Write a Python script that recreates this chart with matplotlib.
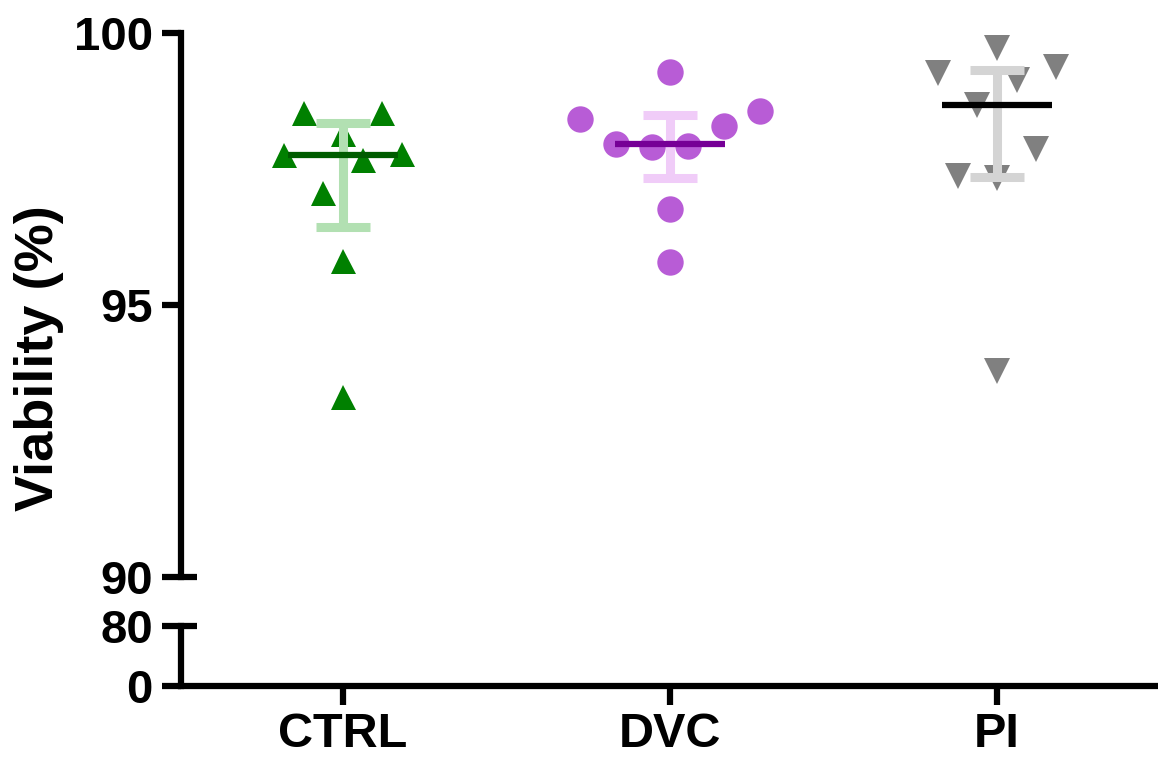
import numpy as np
import matplotlib
matplotlib.use("Agg")
import matplotlib.pyplot as plt

plt.rcParams['font.family'] = ['Liberation Sans', 'DejaVu Sans']
plt.rcParams['font.weight'] = 'bold'

# ---- data -------------------------------------------------------------
groups = ["CTRL", "DVC", "PI"]
ctrl_vals = [98.53, 98.53, 98.15, 97.76, 97.67, 97.77, 97.05, 95.81, 93.30]
dvc_vals = [99.29, 98.42, 98.57, 98.29, 97.95, 97.90, 97.92, 96.77, 95.79]
pi_vals = [99.73, 99.26, 99.37, 99.14, 98.67, 97.87, 97.37, 97.33, 93.78]

# horizontal scatter slots (multiples of the slot width) for each point
ctrl_slot = [-2, 2, 0, -3, 1, 3, -1, 0, 0]
dvc_slot = [0, -5, 5, 3, -3, -1, 1, 0, 0]
pi_slot = [0, -3, 3, 1, -1, 2, -2, 0, 0]

upper_ticks = [90, 95, 100]
lower_ticks = [0, 80]

# ---- styling ----------------------------------------------------------
styles = [
    dict(marker='^', color='#008000', bar='#b2e0b2', med='#005c00', ms=18, step=0.060),
    dict(marker='o', color='#b85cd6', bar='#f0ccf8', med='#760096', ms=19, step=0.055),
    dict(marker='v', color='#808080', bar='#d4d4d4', med='#000000', ms=19, step=0.060),
]
values = [ctrl_vals, dvc_vals, pi_vals]
slots = [ctrl_slot, dvc_slot, pi_slot]

LW = 4.5
fig = plt.figure(figsize=(11.58, 7.60), dpi=100)
ax = fig.add_axes([0.1559, 0.2412, 1 - 0.1559, 0.7154])
axl = fig.add_axes([0.1559, 0.0974, 1 - 0.1559, 0.0789])

xlim = (-0.497, 2.492)
for a in (ax, axl):
    a.set_xlim(*xlim)
    for s in ('top', 'right'):
        a.spines[s].set_visible(False)
    a.spines['left'].set_linewidth(LW)
    a.spines['bottom'].set_linewidth(LW)
    a.tick_params(axis='both', width=LW, length=14, labelsize=34, pad=6)

ax.spines['bottom'].set_visible(False)
ax.set_ylim(90, 100)
ax.set_yticks(upper_ticks)
ax.set_xticks([])
axl.set_ylim(0, 80)
axl.set_yticks(lower_ticks)
axl.set_xticks(range(len(groups)))
axl.set_xticklabels(groups, fontsize=35, fontweight='bold')
axl.tick_params(axis='x', pad=5)
for a in (ax, axl):
    for lab in a.get_yticklabels():
        lab.set_fontweight('bold')

# axis-break marks on the right side of the spine
brk = 16 / (1158 * (1 - 0.1559))
ax.plot([0, brk], [0, 0], transform=ax.transAxes, color='black', lw=LW,
        solid_capstyle='butt', clip_on=False)
axl.plot([0, brk], [1, 1], transform=axl.transAxes, color='black', lw=LW,
         solid_capstyle='butt', clip_on=False)

# ---- points, median and interquartile range ---------------------------
for i, (vals, slot, st) in enumerate(zip(values, slots, styles)):
    v = np.asarray(vals)
    xs = i + np.asarray(slot) * st['step']
    ax.plot(xs, v, linestyle='none', marker=st['marker'], ms=st['ms'],
            color=st['color'], markeredgewidth=0, zorder=2, clip_on=False)
    q1, q3 = np.percentile(v, [25, 75], method='weibull')
    med = np.median(v)
    ax.plot([i, i], [q1, q3], color=st['bar'], lw=6.5, solid_capstyle='butt', zorder=3)
    for q in (q1, q3):
        ax.plot([i - 0.083, i + 0.083], [q, q], color=st['bar'], lw=6.5,
                solid_capstyle='butt', zorder=3)
    ax.plot([i - 0.167, i + 0.167], [med, med], color=st['med'], lw=4.5,
            solid_capstyle='butt', zorder=4)

fig.text(14 / 1158, 1 - 358 / 760, "Viability (%)", rotation=90, ha='left',
         va='center', fontsize=39, fontweight='bold')

fig.savefig("out.png", dpi=100)
